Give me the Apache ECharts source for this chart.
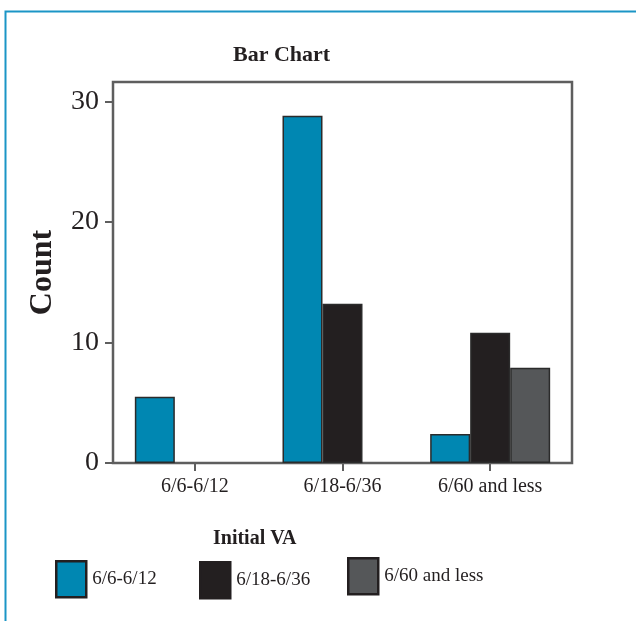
<!DOCTYPE html>
<html>
<head>
<meta charset="utf-8">
<script src="https://cdn.jsdelivr.net/npm/echarts@6/dist/echarts.min.js"></script>
<style>html,body{margin:0;padding:0;background:#fff}#c{width:636px;height:621px}</style>
</head>
<body>
<div id="c"></div>
<script>
const categories = ['6/6-6/12', '6/18-6/36', '6/60 and less'];
const seriesNames = ['6/6-6/12', '6/18-6/36', '6/60 and less'];
const valuesA = [5.5, 28.8, 2.4];
const valuesB = [null, 13.2, 10.8];
const valuesC = [null, null, 7.9];
const yTicks = [0, 10, 20, 30];
const colors = ['#0087b2', '#231f20', '#555759'];

const FONT = 'Liberation Serif';
const TXT = '#231f20';
const AX = '#5e5e5e';

const chart = echarts.init(document.getElementById('c'), null, {renderer: 'canvas'});
const allValues = [valuesA, valuesB, valuesC];

function legendFor(i, left, top) {
  return {
    data: [seriesNames[i]], left: left, top: top,
    itemWidth: 30, itemHeight: 36, itemGap: 0, padding: 0,
    icon: 'rect',
    itemStyle: {borderColor: '#231f20', borderWidth: 2.5},
    textStyle: {fontFamily: FONT, fontSize: 19, color: TXT, padding: [0, 0, 0, 1]}
  };
}

chart.setOption({
  animation: false,
  backgroundColor: '#fff',
  graphic: [{
    type: 'rect', left: 3, top: 9, silent: true,
    shape: {width: 700, height: 700},
    style: {fill: 'none', stroke: '#1b95c6', lineWidth: 2}
  }],
  title: [
    {text: 'Bar Chart', left: 233, top: 44, padding: 0,
     textStyle: {fontFamily: FONT, fontSize: 22, fontWeight: 'bold', color: TXT}},
    {text: 'Initial VA', left: 213, top: 529, padding: 0,
     textStyle: {fontFamily: FONT, fontSize: 20, fontWeight: 'bold', color: TXT}}
  ],
  legend: [legendFor(0, 55, 560), legendFor(1, 199, 561), legendFor(2, 347, 557)],
  grid: [
    {left: 121, right: 72, top: 82, bottom: 158},
    {left: 113, top: 82, width: 459, height: 381, show: true,
     borderColor: AX, borderWidth: 2.5, backgroundColor: 'transparent'}
  ],
  xAxis: [
    {type: 'category', gridIndex: 0, data: categories,
     axisLine: {show: false},
     axisTick: {show: true, alignWithLabel: true, length: 8, lineStyle: {color: AX, width: 2}},
     axisLabel: {fontFamily: FONT, fontSize: 20, color: TXT, margin: 14},
     splitLine: {show: false}},
    {type: 'value', gridIndex: 1, show: false, min: 0, max: 1}
  ],
  yAxis: [
    {type: 'value', gridIndex: 0, min: 0, max: 31.6, interval: 10, offset: 8,
     axisLine: {show: false},
     axisTick: {show: true, length: 8, lineStyle: {color: AX, width: 2}, customValues: yTicks},
     axisLabel: {fontFamily: FONT, fontSize: 28, color: TXT, margin: 14, customValues: yTicks},
     splitLine: {show: false},
     name: 'Count', nameLocation: 'middle', nameGap: 54, nameRotate: 90,
     nameTextStyle: {fontFamily: FONT, fontSize: 32, fontWeight: 'bold', color: TXT}},
    {type: 'value', gridIndex: 1, show: false, min: 0, max: 1}
  ],
  series: allValues.map((vals, i) => ({
    type: 'bar', name: seriesNames[i], xAxisIndex: 0, yAxisIndex: 0,
    data: vals, barWidth: 40, barGap: '0%',
    itemStyle: {color: colors[i], borderColor: '#2b2b2b', borderWidth: 1.5}
  }))
});
</script>
</body>
</html>
